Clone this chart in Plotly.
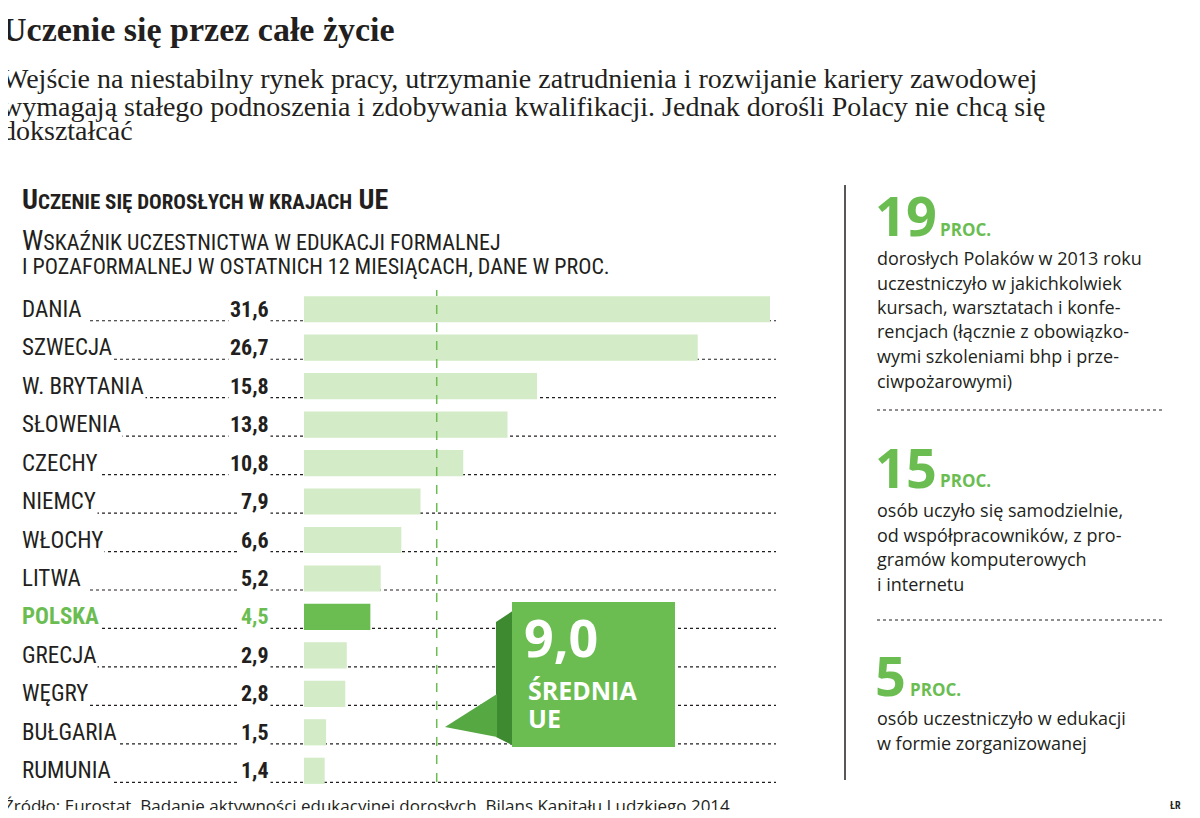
import plotly.graph_objects as go

countries = ["DANIA", "SZWECJA", "W. BRYTANIA", "SŁOWENIA", "CZECHY", "NIEMCY", "WŁOCHY",
             "LITWA", "POLSKA", "GRECJA", "WĘGRY", "BUŁGARIA", "RUMUNIA"]
values = [31.6, 26.7, 15.8, 13.8, 10.8, 7.9, 6.6, 5.2, 4.5, 2.9, 2.8, 1.5, 1.4]
eu_avg = 9.0
highlight = "POLSKA"

# the page body adds an 8px margin, so the figure is a bit smaller than the window
OFF = 8
W, H = 1200 - 2 * OFF, 818 - 2 * OFF
LIGHT = "#d3ebc6"
GREEN = "#6bbd52"
DARK = "#3e8a30"
TEXT = "#231f20"
SANS = "Liberation Sans Narrow, Roboto Condensed, Roboto, sans-serif"
SERIF = "Liberation Serif, DejaVu Serif, serif"
OPEN = "Open Sans, sans-serif"


def px(x):
    return (x - OFF) / W


def py(y):
    return 1 - (y - OFF) / H


def label(x, y, text, size, family=OPEN, color=TEXT, anchor="left", valign="middle"):
    return dict(xref="paper", yref="paper", x=px(x), y=py(y), text=text, showarrow=False,
                xanchor=anchor, yanchor=valign, align="left",
                font=dict(family=family, size=size, color=color))


rows = list(range(len(countries)))
colors = [GREEN if c == highlight else LIGHT for c in countries]

fig = go.Figure(go.Bar(
    x=values, y=rows, orientation="h", marker=dict(color=colors, line_width=0),
    width=0.68, hoverinfo="skip"
))

shapes, annotations = [], []

# leader dotted lines under each row
for r in rows:
    shapes.append(dict(type="line", xref="paper", yref="y", x0=px(90), x1=px(776),
                       y0=r + 0.3, y1=r + 0.3, line=dict(color=TEXT, width=1.2, dash="dot"),
                       layer="below"))

for c, v, r in zip(countries, values, rows):
    hl = c == highlight
    col = GREEN if hl else TEXT
    annotations.append(dict(xref="paper", yref="y", x=px(20), y=r, text=f"<b>{c}</b>" if hl else c,
                            showarrow=False, xanchor="left", yanchor="middle", bgcolor="white",
                            font=dict(family=SANS, size=23, color=col)))
    annotations.append(dict(xref="paper", yref="y", x=px(271), y=r,
                            text=f"<b>{v:.1f}</b>".replace(".", ","),
                            showarrow=False, xanchor="right", yanchor="middle", bgcolor="white",
                            font=dict(family=SANS, size=22, color=col)))

# EU average dashed line
shapes.append(dict(type="line", xref="x", yref="paper", x0=eu_avg, x1=eu_avg, y0=py(782), y1=py(290),
                   line=dict(color=GREEN, width=1.5, dash="dash")))

# callout
shapes.append(dict(type="path", xref="paper", yref="paper", fillcolor=DARK, line_width=0,
                   path=f"M{px(496)},{py(622)} L{px(514)},{py(610)} L{px(514)},{py(746)} L{px(496)},{py(737)} Z"))
shapes.append(dict(type="path", xref="paper", yref="paper", fillcolor="#56a843", line_width=0,
                   path=f"M{px(445)},{py(727)} L{px(497)},{py(694)} L{px(497)},{py(737)} Z"))
shapes.append(dict(type="rect", xref="paper", yref="paper", fillcolor=GREEN, line_width=0,
                   x0=px(512), x1=px(675), y0=py(747), y1=py(602)))
annotations.append(label(522, 636, "<b>" + f"{eu_avg:.1f}".replace(".", ",") + "</b>", 52, color="white"))
annotations.append(label(526, 690, "<b>ŚREDNIA</b>", 25, color="white"))
annotations.append(label(526, 718, "<b>UE</b>", 25, color="white"))

# titles
annotations += [
    label(0, 30, "<b>Uczenie się przez całe życie</b>", 34, family=SERIF),
    label(0, 79, "Wejście na niestabilny rynek pracy, utrzymanie zatrudnienia i rozwijanie kariery zawodowej", 28, family=SERIF),
    label(0, 106, "wymagają stałego podnoszenia i zdobywania kwalifikacji. Jednak dorośli Polacy nie chcą się", 28, family=SERIF),
    label(0, 131, "dokształcać", 28, family=SERIF),
    label(0, 199, "<b>:</b>", 24, family=SANS, color=GREEN),
    label(20, 200, "<b>U<span style='font-size:21px'>CZENIE SIĘ DOROSŁYCH W KRAJACH</span> UE</b>", 28, family=SANS),
    label(20, 241, "W<span style='font-size:22px'>SKAŹNIK UCZESTNICTWA W EDUKACJI FORMALNEJ</span>", 28, family=SANS),
    label(20, 266, "I POZAFORMALNEJ W OSTATNICH 12 MIESIĄCACH, DANE W PROC.", 22, family=SANS),
    label(2, 805, "Źródło: Eurostat. Badanie aktywności edukacyjnej dorosłych, Bilans Kapitału Ludzkiego 2014", 17),
    label(1183, 805, "<b>ŁR</b>", 10, family=SANS, anchor="right"),
]

# right panel
shapes.append(dict(type="line", xref="paper", yref="paper", x0=px(845), x1=px(845), y0=py(185), y1=py(780),
                   line=dict(color=TEXT, width=1.5)))
facts = [
    ("19", 215, ["dorosłych Polaków w 2013 roku", "uczestniczyło w jakichkolwiek", "kursach, warsztatach i konfe-",
                 "rencjach (łącznie z obowiązko-", "wymi szkoleniami bhp i prze-", "ciwpożarowymi)"]),
    ("15", 467, ["osób uczyło się samodzielnie,", "od współpracowników, z pro-", "gramów komputerowych",
                 "i internetu"]),
    ("5", 675, ["osób uczestniczyło w edukacji", "w formie zorganizowanej"]),
]
for num, y, lines in facts:
    annotations.append(label(873, y, f"<b>{num}</b>", 54, color=GREEN))
    annotations.append(label(878 + 30 * len(num), y + 14, "<b>PROC.</b>", 17, color=GREEN))
    for i, line in enumerate(lines):
        annotations.append(label(875, y + 43 + 24.5 * i, line, 18))
for y in (410, 620):
    shapes.append(dict(type="line", xref="paper", yref="paper", x0=px(877), x1=px(1165), y0=py(y), y1=py(y),
                       line=dict(color=TEXT, width=1.2, dash="dot")))

fig.update_layout(
    width=W, height=H, margin=dict(l=0, r=0, t=0, b=0),
    paper_bgcolor="white", plot_bgcolor="white", showlegend=False,
    xaxis=dict(domain=[px(304), px(770)], range=[0, values[0]], visible=False, fixedrange=True),
    yaxis=dict(domain=[py(790), py(290)], range=[len(countries) - 0.5, -0.5], visible=False, fixedrange=True),
    shapes=shapes, annotations=annotations, bargap=0.3,
)

fig.write_html("out.html", config={"displayModeBar": False})
